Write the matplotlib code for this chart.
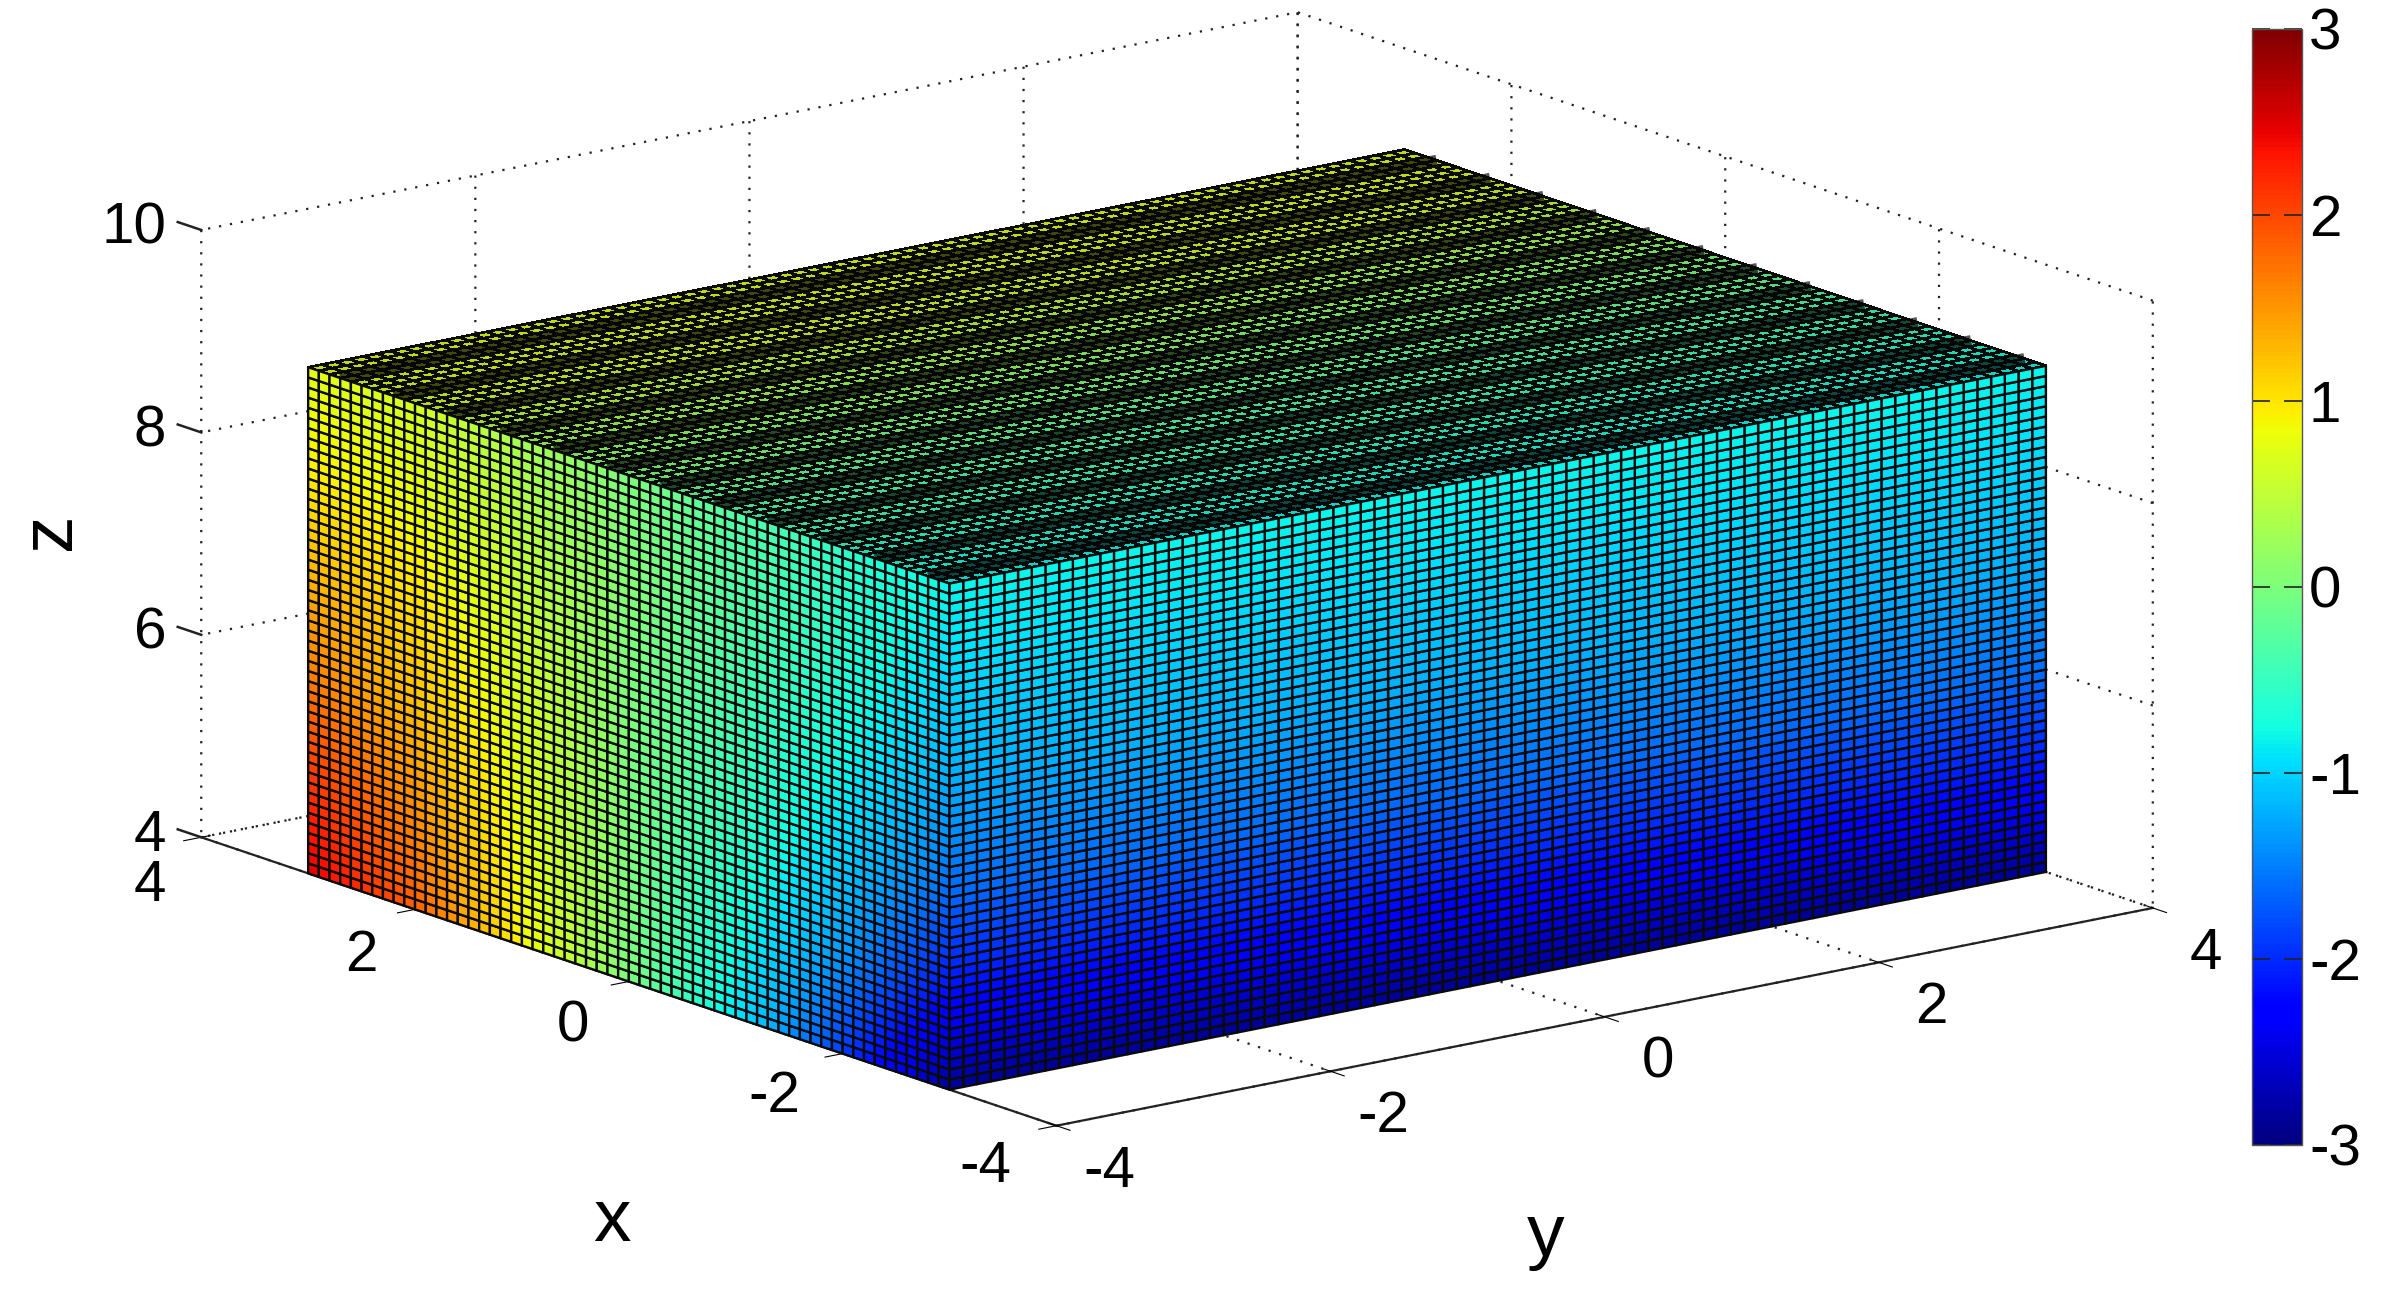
import numpy as np
import matplotlib
matplotlib.use("Agg")
import matplotlib.pyplot as plt
from matplotlib.cm import ScalarMappable
from matplotlib.colors import Normalize
from mpl_toolkits.mplot3d import proj3d

# ---- values ----
x_ticks = [-4, -2, 0, 2, 4]
y_ticks = [-4, -2, 0, 2, 4]
z_ticks = [4, 6, 8, 10]
cbar_ticks = [-3, -2, -1, 0, 1, 2, 3]

x_read = [-3, -2, -1, 0, 1, 2, 3]
z_read = [4, 5, 6, 7, 8, 9]
# Colour value at each (z, x) station, estimated by eye against the colour bar.
# NOTE: the reference has about 3000 cells per face, which cannot be read one by one.
# Only these stations are read; field() below interpolates the cells between them.
c_z4 = [-2.9, -1.9, -0.9, 0.0, 0.9, 1.85, 2.5]
c_z5 = [-2.15, -1.35, -0.7, 0.0, 0.8, 1.55, 2.1]
c_z6 = [-1.6, -1.0, -0.5, 0.0, 0.7, 1.25, 1.65]
c_z7 = [-1.25, -0.75, -0.4, 0.0, 0.6, 1.05, 1.3]
c_z8 = [-1.0, -0.6, -0.3, 0.05, 0.45, 0.8, 0.95]
c_z9 = [-0.8, -0.55, -0.3, 0.0, 0.3, 0.65, 0.75]
# NOTE: x stations of the dark stripes on the top face. In the reference these are a
# moire of the mesh lines; here they are drawn as overlay lines to imitate that look,
# and they carry no data.
stripe_x = [-2.8, -2.3, -1.8, -1.3, -0.8, -0.3, 0.2, 0.7, 1.2, 1.7, 2.2, 2.7]

x_nodes = np.arange(-3, 3.01, 0.1)
y_nodes = np.arange(-4, 4.01, 0.1)
z_nodes = np.arange(4, 9.01, 0.1)

# ---- figure ----
W, H = 2381, 1293
plt.rcParams.update({
    "font.family": ["Liberation Sans", "DejaVu Sans"],
    "axes.unicode_minus": False,
    "grid.color": "#222222",
    "grid.linestyle": (0, (1, 4)),
    "grid.linewidth": 1.6,
    "font.size": 42,
})
fig = plt.figure(figsize=(W / 100, H / 100), dpi=100)
side = 2008
cx, cy = 1177, 1293 - 569
ax = fig.add_axes([(cx - 0.5135 * side) / W, (cy - 0.5135 * side) / H, side / W, side / H],
                  projection="3d", proj_type="ortho", computed_zorder=False)
ax.patch.set_alpha(0)
ax.set_xlim(4, -4)
ax.set_ylim(-4, 4)
ax.set_zlim(4, 10)
ax.set_box_aspect((925, 910, 414))
ax.view_init(elev=15, azim=-37.5)

cmap = matplotlib.colormaps["jet"]
norm = Normalize(-3, 3)
table = np.array([c_z4, c_z5, c_z6, c_z7, c_z8, c_z9])


def field(xs, zs):
    by_x = np.array([np.interp(xs, x_read, row) for row in table])
    return np.array([[np.interp(z, z_read, by_x[:, j]) for j in range(len(xs))] for z in zs])


def cell_colors(values):
    mid = 0.25 * (values[:-1, :-1] + values[1:, :-1] + values[:-1, 1:] + values[1:, 1:])
    return cmap(norm(mid))


edge = dict(rstride=1, cstride=1, shade=False, edgecolor="#0a0a0a")

# top face, z = 9
Xt, Yt = np.meshgrid(x_nodes, y_nodes)
ct = np.repeat(field(x_nodes, z_nodes[-1:]), len(y_nodes), axis=0)
top_rgba = cell_colors(ct)
top_rgba[..., :3] *= 0.85
ax.plot_surface(Xt, Yt, np.full_like(Xt, z_nodes[-1]), facecolors=top_rgba, zorder=1,
                linewidth=1.2, antialiased=False, **edge)
for sx in stripe_x:
    ax.plot([sx, sx], [y_nodes[0], y_nodes[-1]], [z_nodes[-1], z_nodes[-1]], color="#050505",
            alpha=0.68, linewidth=8, solid_capstyle="butt", zorder=1.5)
# left face, y = -4
Xl, Zl = np.meshgrid(x_nodes, z_nodes)
ax.plot_surface(Xl, np.full_like(Xl, y_nodes[0]), Zl,
                facecolors=cell_colors(field(x_nodes, z_nodes)), zorder=2,
                linewidth=1.7, **edge)
# right face, x = -3
Yr, Zr = np.meshgrid(y_nodes, z_nodes)
cr = np.repeat(field(x_nodes[:1], z_nodes), len(y_nodes), axis=1)
ax.plot_surface(np.full_like(Yr, x_nodes[0]), Yr, Zr, facecolors=cell_colors(cr), zorder=3,
                linewidth=1.7, **edge)

ax.set_xticks(x_ticks)
ax.set_yticks(y_ticks)
ax.set_zticks(z_ticks)
ax.set_xticklabels([])
ax.set_yticklabels([])
ax.set_zticklabels([])

for a in (ax.xaxis, ax.yaxis, ax.zaxis):
    a.set_pane_color((1, 1, 1, 0))
    a.pane.set_edgecolor((1, 1, 1, 0))
    a.line.set_color("#222222")
    a.line.set_linewidth(1.6)
ax.zaxis.line.set_visible(False)
ax.zaxis._axinfo["tick"]["inward_factor"] = 0
ax.zaxis._axinfo["tick"]["outward_factor"] = 0
for v in z_ticks:
    ax.plot([4, 4.22], [-4, -4], [v, v], color="#222222", linewidth=1.8, zorder=0.5)


def tick_label(text, x3, y3, z3, dx, dy, ha):
    """Text placed from the 3D tick position through the axes projection."""
    xp, yp, _ = proj3d.proj_transform(x3, y3, z3, ax.get_proj())
    ax.annotate(text, xy=(xp, yp), xycoords="data", xytext=(dx, -dy),
                textcoords="offset pixels", ha=ha, va="center", annotation_clip=False)


for v in x_ticks:
    tick_label(str(v), v, -4, 4, -40 + 1.2 * v, 45 + 0.9 * v, "right")
for v in y_ticks:
    tick_label(str(v), -4, v, 4, 53, 46, "center")
for v in z_ticks:
    tick_label(str(v), 4, -4, v, -35, -1, "right")

fig.text(403 / 1568, 1 - 805 / 852, "x", fontsize=54, ha="center", va="center")
fig.text(1018 / 1568, 1 - 815 / 852, "y", fontsize=54, ha="center", va="center")
fig.text(33 / 1568, 1 - 350 / 852, "z", fontsize=54, ha="center", va="center", rotation=90)

# ---- colour bar ----
cax = fig.add_axes([2252 / W, (H - 1145) / H, 50 / W, (1145 - 29) / H])
cb = fig.colorbar(ScalarMappable(norm=norm, cmap=cmap), cax=cax, ticks=cbar_ticks)
cb.ax.set_yticklabels([str(v) for v in cbar_ticks])
cb.ax.tick_params(direction="in", length=13, width=1.2, left=True, right=True, pad=5,
                  labelsize=42, color="#222222")
cb.outline.set_edgecolor("#555555")
cb.outline.set_linewidth(1.0)

fig.savefig("out.png", dpi=100)
